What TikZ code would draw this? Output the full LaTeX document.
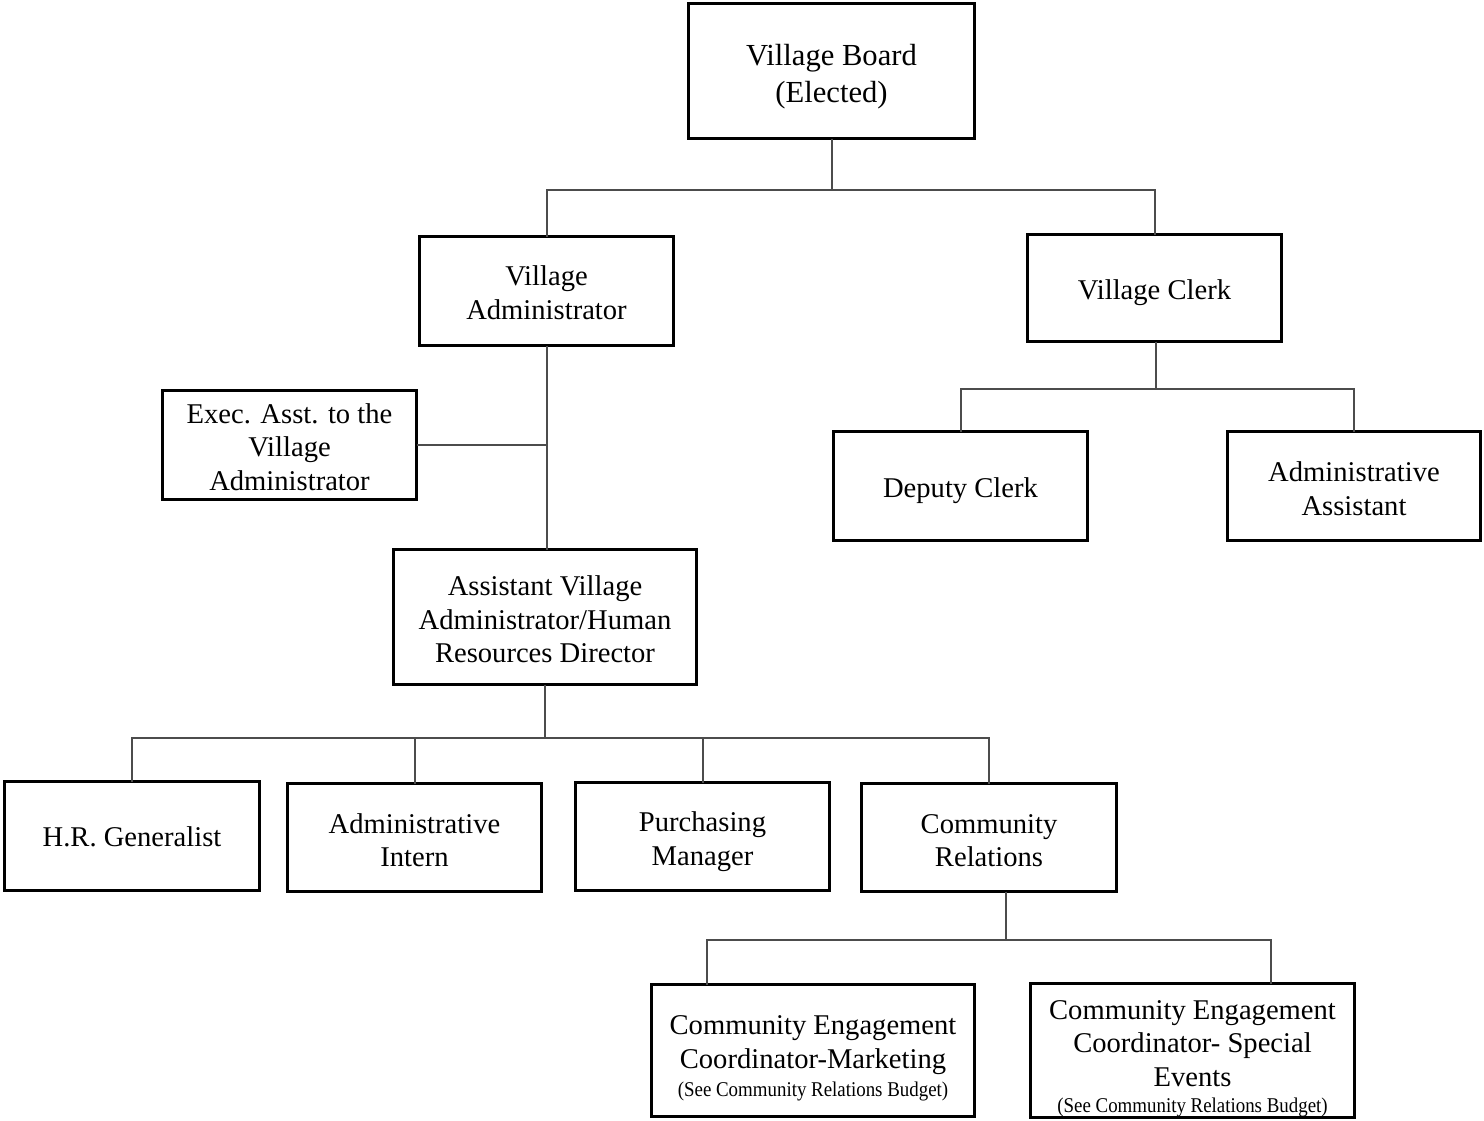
\documentclass[tikz,border=0pt]{standalone}
\usepackage{fontspec}
\setmainfont{Liberation Serif}
\newfontfamily\notefont[FakeStretch=0.9]{Liberation Serif}
% invisible strut on a first line, to set the text block a little lower
\newcommand\lowerby[1]{\rule{0pt}{#1}}
\begin{document}
\begin{tikzpicture}[x=0.5pt,y=-0.5pt,
  every node/.style={inner sep=0pt,outer sep=0pt},
  box/.style={draw=black,line width=1.7pt,align=center,
    font=\fontsize{14.3}{16.8}\selectfont},
  link/.style={draw=black!70,line width=1pt}]
\useasboundingbox (0,0) rectangle (1484,1120);

% boxes
\node[box,minimum width=143pt,minimum height=67.5pt,
  font=\fontsize{15.3}{18.5}\selectfont] (board) at (831.5,71)
  {\lowerby{16.5pt}Village Board\\(Elected)};
\node[box,minimum width=127pt,minimum height=54.5pt] (va) at (546.5,291)
  {\lowerby{11.8pt}Village\\Administrator};
\node[box,minimum width=127pt,minimum height=53.5pt] (clerk) at (1154.5,288)
  {\lowerby{14.8pt}Village Clerk};
\node[box,minimum width=127pt,minimum height=54.5pt] (exec) at (289.5,445)
  {\lowerby{11.8pt}Exec. Asst. to the\\Village\\Administrator};
\node[box,minimum width=151.5pt,minimum height=67.5pt] (ava) at (545,617)
  {\lowerby{12.3pt}Assistant Village\\Administrator/Human\\Resources Director};
\node[box,minimum width=127pt,minimum height=54.5pt] (deputy) at (960.5,486)
  {\lowerby{14.8pt}Deputy Clerk};
\node[box,minimum width=126.5pt,minimum height=54.5pt] (aa) at (1354,486)
  {\lowerby{12.8pt}Administrative\\Assistant};
\node[box,minimum width=127.5pt,minimum height=54.5pt] (hr) at (132,836)
  {\lowerby{10.8pt}H.R. Generalist};
\node[box,minimum width=127pt,minimum height=54pt] (intern) at (414.5,837.5)
  {\lowerby{12.8pt}Administrative\\Intern};
\node[box,minimum width=127pt,minimum height=54pt] (purch) at (702.5,836.5)
  {\lowerby{14.8pt}Purchasing\\Manager};
\node[box,minimum width=127.5pt,minimum height=54pt] (cr) at (989,837.5)
  {\lowerby{12.8pt}Community\\Relations};
\node[box,minimum width=161.5pt,minimum height=66pt] (cecm) at (813,1050.5)
  {\lowerby{17.3pt}Community Engagement\\Coordinator-Marketing\\[-2.8pt]
   {\notefont\fontsize{10.5}{16.8}\selectfont (See Community Relations Budget)}};
\node[box,minimum width=162pt,minimum height=66pt] (cecs) at (1192.5,1050.5)
  {\lowerby{17.8pt}Community Engagement\\Coordinator- Special\\Events\\[-3.6pt]
   {\notefont\fontsize{10.5}{16.8}\selectfont (See Community Relations Budget)}};

% junction points of the connector bars
\coordinate (j1) at (831.5,190);
\coordinate (j2) at (1156,389);
\coordinate (j3) at (546,738);
\coordinate (j4) at (1006,940);
\coordinate (crout) at ([xshift=8.5pt]cr.south);
\coordinate (cecmin) at ([xshift=-53pt]cecm.north);
\coordinate (cecsin) at ([xshift=39.25pt]cecs.north);

% connectors
\draw[link] (board.south) -- (j1);
\draw[link] (va.north) |- (j1) -| (clerk.north);
\draw[link] (va.south) -- (va.south |- ava.north);
\draw[link] (exec.east) -- (exec.east -| va.south);
\draw[link] (clerk.south -| j2) -- (j2);
\draw[link] (deputy.north) |- (j2) -| (aa.north);
\draw[link] (ava.south) -- (ava.south |- j3);
\draw[link] (hr.north) |- (j3) -| (cr.north);
\draw[link] (intern.north) -- (intern.north |- j3);
\draw[link] (purch.north) -- (purch.north |- j3);
\draw[link] (crout) -- (j4);
\draw[link] (cecmin) |- (j4) -| (cecsin);
\end{tikzpicture}
\end{document}
